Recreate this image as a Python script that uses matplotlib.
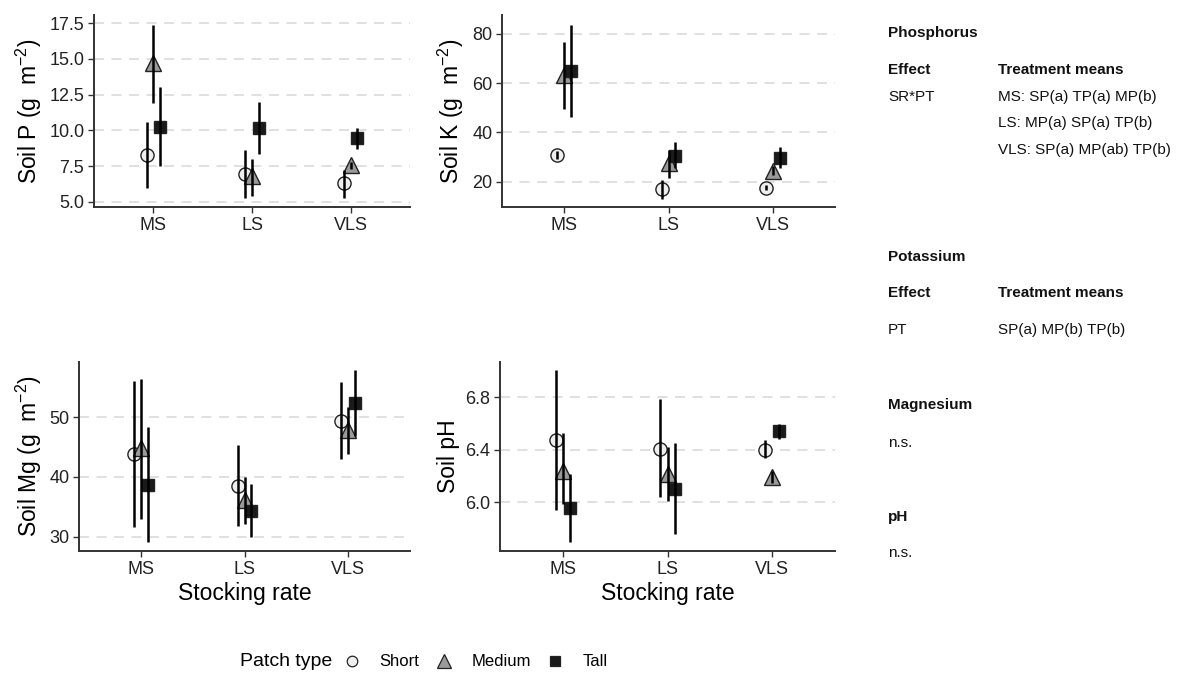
import numpy as np
import matplotlib
matplotlib.use("Agg")
import matplotlib.pyplot as plt
from matplotlib.lines import Line2D

plt.rcParams['font.family'] = ['Liberation Sans', 'DejaVu Sans']
plt.rcParams['mathtext.fontset'] = 'custom'
plt.rcParams['mathtext.rm'] = 'Liberation Sans'
plt.rcParams['mathtext.it'] = 'Liberation Sans:italic'

rates = ['MS', 'LS', 'VLS']
patches = ['Short', 'Medium', 'Tall']

# means and 95% intervals, rows = patch type, columns = stocking rate
p_mean = [[8.3, 6.95, 6.3], [14.7, 6.8, 7.55], [10.25, 10.2, 9.5]]
p_low = [[6.0, 5.3, 5.3], [11.9, 5.45, 7.3], [7.5, 8.35, 8.7]]
p_high = [[10.6, 8.6, 7.2], [17.35, 8.0, 7.8], [13.0, 12.0, 10.2]]

k_mean = [[30.9, 17.0, 17.6], [63.3, 27.5, 24.5], [65.0, 30.6, 29.8]]
k_low = [[29.2, 13.0, 16.6], [49.4, 21.4, 22.6], [46.4, 25.4, 25.4]]
k_high = [[32.6, 20.7, 18.6], [76.9, 33.0, 26.5], [83.7, 36.2, 34.2]]

mg_mean = [[43.8, 38.5, 49.3], [44.8, 36.1, 47.9], [38.7, 34.3, 52.4]]
mg_low = [[31.6, 31.8, 42.9], [32.9, 32.1, 43.8], [29.1, 30.0, 46.9]]
mg_high = [[56.0, 45.3, 55.8], [56.4, 40.0, 51.7], [48.4, 38.8, 57.9]]

ph_mean = [[6.475, 6.41, 6.40], [6.24, 6.22, 6.195], [5.96, 6.10, 6.545]]
ph_low = [[5.94, 6.04, 6.335], [5.99, 6.01, 6.15], [5.70, 5.76, 6.48]]
ph_high = [[7.01, 6.79, 6.475], [6.53, 6.42, 6.24], [6.22, 6.45, 6.60]]

shapes = ['o', '^', 's']
sizes = [9.5, 12.0, 8.5]
fills = ['#efefef', '#9a9a9a', '#1a1a1a']
dodge = [-0.067, 0.0, 0.067]

W, H = 1183, 675
fig = plt.figure(figsize=(W / 100, H / 100), dpi=100)


def box(left, top, right, bottom):
    return [left / W, 1 - bottom / H, (right - left) / W, (bottom - top) / H]


def panel(rect, mean, low, high, ylim, yticks, yfmt, ylabel, xlabel=None):
    ax = fig.add_axes(box(*rect))
    x = np.arange(1, len(rates) + 1)
    for i in range(len(patches)):
        xs = x + dodge[i]
        ax.plot(xs, mean[i], linestyle='none', marker=shapes[i], markersize=sizes[i],
                markerfacecolor=fills[i], markeredgecolor='#222222',
                markeredgewidth=1.0, zorder=3)
        ax.vlines(xs, low[i], high[i], color='black', linewidth=1.8, zorder=4)
    ax.set_xlim(0.4, 3.6)
    ax.set_ylim(*ylim)
    ax.set_xticks(x)
    ax.set_xticklabels(rates)
    ax.set_yticks(yticks)
    ax.set_yticklabels([yfmt.format(v) for v in yticks])
    ax.yaxis.grid(True, color='#dadada', linestyle=(0, (6, 4.5)), linewidth=1.2)
    ax.set_axisbelow(True)
    for side in ['top', 'right']:
        ax.spines[side].set_visible(False)
    for side in ['left', 'bottom']:
        ax.spines[side].set_color('#333333')
        ax.spines[side].set_linewidth(1.4)
    ax.tick_params(labelsize=13, colors='#333333', length=4, width=1.0,
                   labelcolor='#222222', pad=3)
    ax.set_ylabel(ylabel, fontsize=16.5, labelpad=4)
    if xlabel:
        ax.set_xlabel(xlabel, fontsize=16.5, labelpad=3)
    return ax


unit = ' (g  m$^{-2}$)'
panel((94, 15, 410, 207), p_mean, p_low, p_high, (4.65, 18.06),
      [5, 7.5, 10, 12.5, 15, 17.5], '{:.1f}', 'Soil P' + unit)
panel((502, 15, 835, 207), k_mean, k_low, k_high, (9.7, 87.7),
      [20, 40, 60, 80], '{:.0f}', 'Soil K' + unit)
panel((79, 362, 410, 551), mg_mean, mg_low, mg_high, (27.6, 59.2),
      [30, 40, 50], '{:.0f}', 'Soil Mg' + unit, 'Stocking rate')
panel((500, 362, 835, 551), ph_mean, ph_low, ph_high, (5.63, 7.07),
      [6.0, 6.4, 6.8], '{:.1f}', 'Soil pH', 'Stocking rate')

# summary of model effects on the right
col1, col2 = 888 / W, 998 / W
notes = [
    (33, 'Phosphorus', None, True),
    (70, 'Effect', 'Treatment means', True),
    (97, 'SR*PT', 'MS: SP(a) TP(a) MP(b)', False),
    (123, None, 'LS: MP(a) SP(a) TP(b)', False),
    (150, None, 'VLS: SP(a) MP(ab) TP(b)', False),
    (257, 'Potassium', None, True),
    (293, 'Effect', 'Treatment means', True),
    (330, 'PT', 'SP(a) MP(b) TP(b)', False),
    (405, 'Magnesium', None, True),
    (443, 'n.s.', None, False),
    (517, 'pH', None, True),
    (553, 'n.s.', None, False),
]
for y, a, b, bold in notes:
    weight = 'bold' if bold else 'normal'
    if a:
        fig.text(col1, 1 - y / H, a, fontsize=11, fontweight=weight,
                 va='center', ha='left', color='#111111')
    if b:
        fig.text(col2, 1 - y / H, b, fontsize=11, fontweight=weight,
                 va='center', ha='left', color='#111111')

# legend along the bottom
fig.text(240 / W, 1 - 662 / H, 'Patch type', fontsize=14, va='center', ha='left')
handles = [Line2D([], [], linestyle='none', marker=shapes[i],
                  markersize=sizes[i] * 0.8,
                  markerfacecolor=fills[i], markeredgecolor='#222222',
                  markeredgewidth=0.9) for i in range(len(patches))]
fig.legend(handles, patches, ncol=3, frameon=False, fontsize=12,
           loc='center left', bbox_to_anchor=(345 / W, 1 - 662 / H),
           handlelength=0.8, handletextpad=1.28, columnspacing=1.04,
           borderaxespad=0, borderpad=0)

fig.savefig('out.png', dpi=100, facecolor='white')
